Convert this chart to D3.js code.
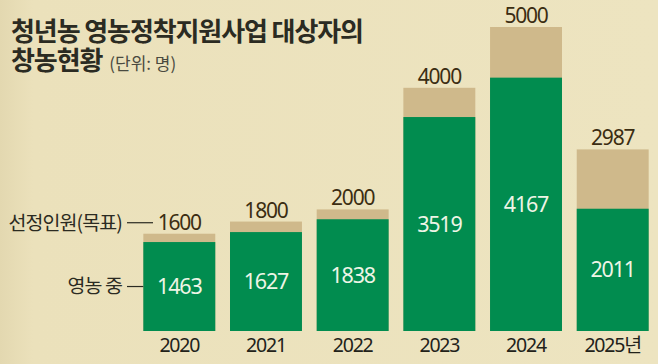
<!DOCTYPE html>
<html><head><meta charset="utf-8">
<script src="https://cdn.jsdelivr.net/npm/d3@7"></script>
<style>
html,body{margin:0;padding:0;background:#ece3bf;}
svg{display:block;}
</style></head>
<body>
<svg id="chart" width="658" height="364"></svg>
<script>
const categories = ["2020","2021","2022","2023","2024","2025년"];
const targets = [1600,1800,2000,4000,5000,2987];
const farming = [1463,1627,1838,3519,4167,2011];

const W = 658, H = 364;
const svg = d3.select("#chart");
const defs = svg.append("defs");
const grad = defs.append("linearGradient").attr("id","bg").attr("x1","0").attr("x2","1").attr("y1","0").attr("y2","0");
grad.append("stop").attr("offset","0").attr("stop-color","#e3d8b0");
grad.append("stop").attr("offset","0.05").attr("stop-color","#ebe1bb");
grad.append("stop").attr("offset","1").attr("stop-color","#ede4c0");
svg.append("rect").attr("width",W).attr("height",H).attr("fill","url(#bg)");

const x = d3.scaleBand().domain(categories).range([128.6, 663.4]).paddingInner(0.17).paddingOuter(0.17);
const y = d3.scaleLinear().domain([0,5000]).range([331, 27]);

const font = "'Noto Sans CJK KR','Noto Sans',sans-serif";
const numFont = "'Noto Sans','Noto Sans CJK KR',sans-serif";

// Title (one text element, two lines)
const title = svg.append("text").attr("font-family",font).attr("font-weight",700)
  .attr("font-size",26).attr("fill","#2b2b22").attr("letter-spacing",-1.1);
title.append("tspan").attr("x",11).attr("y",41).text("청년농 영농정착지원사업 대상자의");
title.append("tspan").attr("x",11).attr("y",70).text("창농현황");
title.append("tspan").attr("dx",7).attr("font-weight",400).attr("font-size",17).attr("fill","#4a4a40").attr("letter-spacing",0).text("(단위: 명)");

const g = svg.append("g");
const bars = g.selectAll("g.bar").data(categories).join("g").attr("class","bar");
bars.append("rect")
  .attr("x", d => x(d)).attr("width", x.bandwidth())
  .attr("y", (d,i) => y(targets[i])).attr("height", (d,i) => y(0) - y(targets[i]))
  .attr("fill","#cfb98b");
bars.append("rect")
  .attr("x", d => x(d)).attr("width", x.bandwidth())
  .attr("y", (d,i) => y(farming[i])).attr("height", (d,i) => y(0) - y(farming[i]))
  .attr("fill","#018c4f");

// top labels
bars.append("text")
  .attr("x", d => x(d) + x.bandwidth()/2)
  .attr("y", (d,i) => y(targets[i]) - 4)
  .attr("text-anchor","middle").attr("font-family",numFont).attr("font-size",21)
  .attr("letter-spacing",-1.2).attr("fill","#3b2d12")
  .text((d,i) => targets[i]);
// inside labels
bars.append("text")
  .attr("x", d => x(d) + x.bandwidth()/2)
  .attr("y", (d,i) => (y(farming[i]) + y(0))/2)
  .attr("dy","0.35em")
  .attr("text-anchor","middle").attr("font-family",numFont).attr("font-size",21.5)
  .attr("letter-spacing",-1.2).attr("fill","#eef5e6")
  .text((d,i) => farming[i]);
// x labels
bars.append("text")
  .attr("x", d => x(d) + x.bandwidth()/2)
  .attr("y", 352)
  .attr("text-anchor","middle").attr("font-family",numFont).attr("font-size",19.5)
  .attr("letter-spacing",-1.2).attr("fill","#22221a")
  .text(d => d);

// annotations
const first = categories[0];
const ty = y(targets[0]) - 11;
svg.append("text").attr("x",122).attr("y",ty).attr("dy","0.35em").attr("text-anchor","end")
  .attr("font-family",font).attr("font-size",19.5).attr("letter-spacing",-0.9).attr("fill","#2b2b22").text("선정인원(목표)");
svg.append("line").attr("x1",127).attr("x2",153).attr("y1",ty).attr("y2",ty).attr("stroke","#2b2b22").attr("stroke-width",1.2);
const fy = (y(farming[0]) + y(0))/2;
svg.append("text").attr("x",122).attr("y",fy).attr("dy","0.35em").attr("text-anchor","end")
  .attr("font-family",font).attr("font-size",19.5).attr("letter-spacing",-0.9).attr("fill","#2b2b22").text("영농 중");
svg.append("line").attr("x1",127).attr("x2",x(first)).attr("y1",fy).attr("y2",fy).attr("stroke","#2b2b22").attr("stroke-width",1.2);
</script>
</body></html>
